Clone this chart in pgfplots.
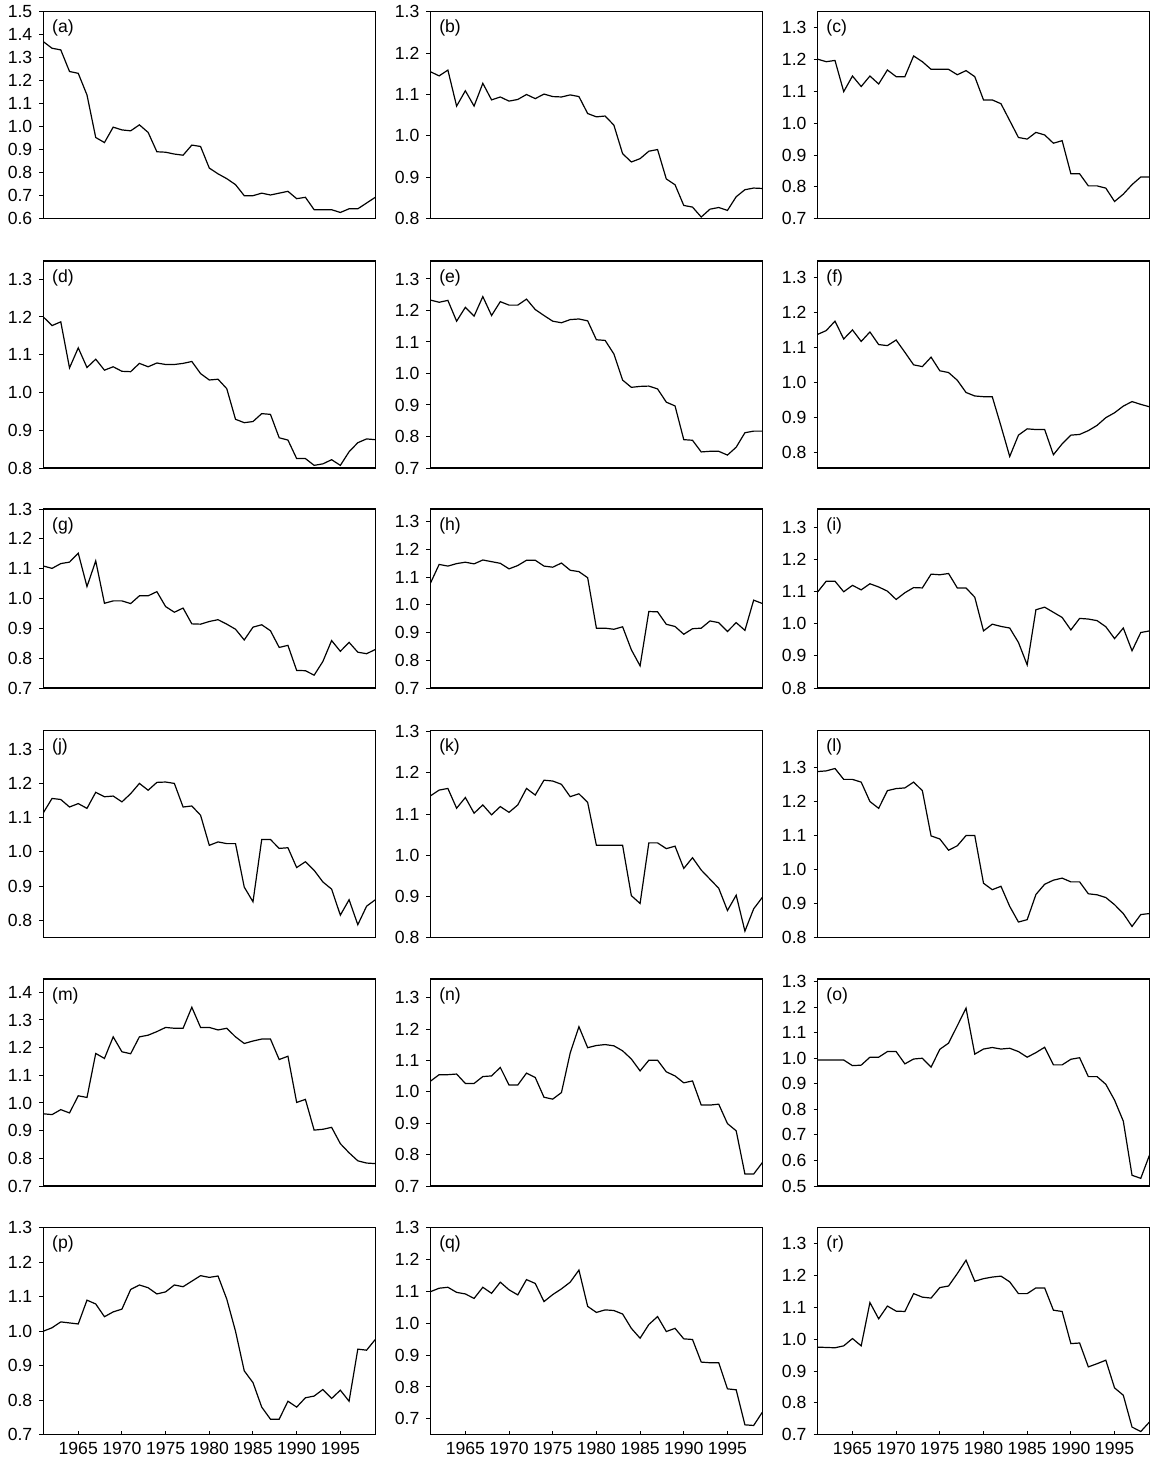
\documentclass[border=0pt]{standalone}
\usepackage{fontspec}
\setmainfont{Liberation Sans}
\usepackage{pgfplots}
\usepackage{pgfplotstable}
\pgfplotsset{compat=1.18}

\pgfplotstableread{
year a b c d e f g h i j k l m n o p q r
1961 1.370 1.155 1.201 1.200 1.233 1.137 1.109 1.078 1.099 1.114 1.144 1.288 0.961 1.034 0.993 1.000 1.099 0.975
1962 1.341 1.145 1.193 1.177 1.226 1.148 1.101 1.146 1.133 1.156 1.158 1.290 0.958 1.055 0.993 1.010 1.110 0.974
1963 1.334 1.159 1.197 1.187 1.232 1.175 1.117 1.140 1.133 1.153 1.162 1.297 0.976 1.055 0.993 1.027 1.113 0.973
1964 1.240 1.072 1.099 1.065 1.166 1.124 1.122 1.149 1.100 1.131 1.114 1.265 0.964 1.057 0.993 1.024 1.097 0.979
1965 1.232 1.109 1.148 1.118 1.210 1.150 1.152 1.154 1.120 1.141 1.140 1.265 1.026 1.027 0.971 1.021 1.092 1.002
1966 1.138 1.072 1.115 1.066 1.182 1.117 1.040 1.148 1.106 1.127 1.102 1.257 1.020 1.027 0.973 1.090 1.078 0.979
1967 0.953 1.127 1.148 1.088 1.244 1.144 1.126 1.162 1.125 1.174 1.122 1.200 1.179 1.049 1.004 1.079 1.113 1.115
1968 0.931 1.087 1.123 1.059 1.184 1.108 0.984 1.156 1.115 1.161 1.098 1.180 1.161 1.051 1.004 1.042 1.094 1.064
1969 0.998 1.094 1.167 1.068 1.228 1.105 0.992 1.150 1.102 1.163 1.118 1.232 1.239 1.078 1.026 1.056 1.129 1.104
1970 0.986 1.084 1.146 1.056 1.217 1.121 0.992 1.130 1.076 1.146 1.104 1.238 1.185 1.022 1.026 1.064 1.105 1.088
1971 0.982 1.088 1.146 1.055 1.217 1.086 0.983 1.142 1.097 1.170 1.122 1.240 1.178 1.022 0.978 1.121 1.089 1.087
1972 1.008 1.100 1.211 1.077 1.236 1.050 1.009 1.161 1.113 1.200 1.162 1.257 1.239 1.060 0.997 1.134 1.137 1.143
1973 0.975 1.090 1.193 1.068 1.203 1.045 1.009 1.161 1.112 1.180 1.146 1.232 1.245 1.046 1.000 1.126 1.125 1.132
1974 0.891 1.101 1.169 1.078 1.184 1.072 1.023 1.140 1.155 1.203 1.182 1.099 1.258 0.983 0.965 1.108 1.068 1.129
1975 0.889 1.095 1.169 1.074 1.166 1.033 0.973 1.136 1.153 1.204 1.180 1.090 1.273 0.977 1.035 1.114 1.090 1.162
1976 0.881 1.094 1.169 1.074 1.161 1.028 0.954 1.151 1.157 1.200 1.172 1.057 1.270 0.998 1.059 1.134 1.108 1.167
1977 0.876 1.099 1.152 1.077 1.171 1.006 0.968 1.125 1.112 1.131 1.142 1.070 1.270 1.124 1.127 1.129 1.129 1.206
1978 0.920 1.095 1.165 1.082 1.173 0.971 0.915 1.120 1.112 1.134 1.149 1.100 1.346 1.208 1.196 1.145 1.167 1.248
1979 0.914 1.054 1.146 1.050 1.167 0.961 0.914 1.098 1.083 1.107 1.128 1.100 1.273 1.141 1.016 1.161 1.053 1.182
1980 0.820 1.046 1.073 1.033 1.107 0.959 0.923 0.916 0.978 1.019 1.024 0.960 1.273 1.148 1.036 1.156 1.034 1.190
1981 0.795 1.048 1.073 1.035 1.105 0.959 0.929 0.916 0.999 1.029 1.024 0.941 1.264 1.151 1.042 1.160 1.042 1.195
1982 0.774 1.026 1.061 1.010 1.062 0.875 0.914 0.912 0.992 1.024 1.024 0.951 1.270 1.147 1.036 1.093 1.040 1.198
1983 0.748 0.957 1.008 0.929 0.979 0.788 0.897 0.921 0.987 1.024 1.024 0.892 1.239 1.131 1.039 1.000 1.029 1.180
1984 0.700 0.937 0.955 0.920 0.956 0.849 0.861 0.838 0.942 0.897 0.902 0.846 1.215 1.105 1.026 0.885 0.984 1.143
1985 0.700 0.945 0.950 0.923 0.959 0.867 0.904 0.780 0.872 0.854 0.883 0.853 1.224 1.067 1.004 0.851 0.953 1.143
1986 0.711 0.963 0.971 0.944 0.960 0.865 0.912 0.976 1.044 1.036 1.030 0.927 1.231 1.101 1.022 0.780 0.996 1.161
1987 0.703 0.967 0.963 0.942 0.951 0.865 0.892 0.975 1.052 1.036 1.030 0.957 1.231 1.101 1.043 0.745 1.021 1.161
1988 0.711 0.896 0.937 0.880 0.909 0.793 0.836 0.930 1.036 1.010 1.016 0.969 1.157 1.064 0.974 0.745 0.974 1.091
1989 0.719 0.882 0.945 0.874 0.897 0.824 0.843 0.922 1.020 1.012 1.022 0.975 1.169 1.051 0.974 0.797 0.984 1.087
1990 0.687 0.832 0.841 0.825 0.790 0.849 0.759 0.894 0.981 0.954 0.968 0.964 1.002 1.029 0.996 0.780 0.951 0.986
1991 0.693 0.828 0.841 0.825 0.788 0.851 0.758 0.914 1.017 0.971 0.994 0.964 1.013 1.035 1.002 0.807 0.949 0.988
1992 0.639 0.804 0.803 0.807 0.751 0.862 0.743 0.916 1.015 0.946 0.964 0.929 0.902 0.958 0.928 0.812 0.878 0.913
1993 0.639 0.823 0.803 0.811 0.753 0.877 0.789 0.942 1.010 0.912 0.942 0.926 0.905 0.958 0.928 0.831 0.876 0.923
1994 0.639 0.827 0.796 0.822 0.753 0.899 0.859 0.936 0.991 0.891 0.920 0.918 0.912 0.961 0.898 0.805 0.876 0.934
1995 0.627 0.820 0.754 0.807 0.741 0.913 0.823 0.904 0.954 0.815 0.866 0.897 0.853 0.899 0.836 0.829 0.794 0.847
1996 0.643 0.853 0.777 0.843 0.766 0.932 0.853 0.936 0.987 0.860 0.903 0.871 0.820 0.876 0.754 0.797 0.791 0.824
1997 0.643 0.870 0.807 0.867 0.812 0.945 0.820 0.908 0.916 0.787 0.816 0.833 0.791 0.738 0.542 0.948 0.681 0.724
1998 0.668 0.874 0.831 0.877 0.817 0.937 0.815 1.017 0.973 0.841 0.870 0.868 0.783 0.738 0.530 0.945 0.679 0.710
1999 0.693 0.873 0.831 0.875 0.817 0.930 0.829 1.005 0.978 0.860 0.898 0.871 0.781 0.775 0.621 0.976 0.721 0.740
}\data

\pgfplotsset{
  panel/.style={
    scale only axis, width=166pt, height=103.5pt,
    anchor=north west,
    xmin=1961, xmax=1999, xtick=\empty,
    ytick align=outside, xtick align=inside,
    ytick pos=left, xtick pos=bottom,
    major tick length=2pt,
    axis line style={line width=0.6pt},
    every tick/.style={black, line width=0.5pt},
    tick label style={font=\fontsize{8.8}{10}\selectfont},
    /pgf/number format/assume math mode=true,
    yticklabel style={/pgf/number format/.cd, fixed, fixed zerofill, precision=1},
    xticklabel style={/pgf/number format/1000 sep={}},
  },
  bottomrow/.style={xtick={1965,1970,1975,1980,1985,1990,1995}},
  row3/.style={height=89.5pt},
}
\newcommand{\series}[1]{\addplot[black, line width=0.6pt, no marks] table[x=year, y=#1] {\data};}
\newcommand{\plabel}[1]{\node[anchor=north west, inner sep=0pt, font=\fontsize{8.8}{10}\selectfont, xshift=4.25pt, yshift=-4pt] at (rel axis cs:0,1) {(#1)};}

\begin{document}
\begin{tikzpicture}
% Row 1
\begin{axis}[panel, at={(21.65pt,-5.85pt)}, ymin=0.6, ymax=1.5, ytick={0.6,0.7,0.8,0.9,1.0,1.1,1.2,1.3,1.4,1.5}]
\series{a}\plabel{a}
\end{axis}
\begin{axis}[panel, at={(215.2pt,-5.85pt)}, ymin=0.8, ymax=1.3, ytick={0.8,0.9,1.0,1.1,1.2,1.3}]
\series{b}\plabel{b}
\end{axis}
\begin{axis}[panel, at={(408.75pt,-5.85pt)}, ymin=0.7, ymax=1.35, ytick={0.7,0.8,0.9,1.0,1.1,1.2,1.3}]
\series{c}\plabel{c}
\end{axis}
% Row 2
\begin{axis}[panel, at={(21.65pt,-130.5pt)}, ymin=0.8, ymax=1.348, ytick={0.8,0.9,1.0,1.1,1.2,1.3}]
\series{d}\plabel{d}
\end{axis}
\begin{axis}[panel, at={(215.2pt,-130.5pt)}, ymin=0.7, ymax=1.357, ytick={0.7,0.8,0.9,1.0,1.1,1.2,1.3}]
\series{e}\plabel{e}
\end{axis}
\begin{axis}[panel, at={(408.75pt,-130.5pt)}, ymin=0.755, ymax=1.347, ytick={0.8,0.9,1.0,1.1,1.2,1.3}]
\series{f}\plabel{f}
\end{axis}
% Row 3
\begin{axis}[panel, row3, at={(21.65pt,-254.5pt)}, ymin=0.7, ymax=1.3, ytick={0.7,0.8,0.9,1.0,1.1,1.2,1.3}]
\series{g}\plabel{g}
\end{axis}
\begin{axis}[panel, row3, at={(215.2pt,-254.5pt)}, ymin=0.7, ymax=1.346, ytick={0.7,0.8,0.9,1.0,1.1,1.2,1.3}]
\series{h}\plabel{h}
\end{axis}
\begin{axis}[panel, row3, at={(408.75pt,-254.5pt)}, ymin=0.8, ymax=1.358, ytick={0.8,0.9,1.0,1.1,1.2,1.3}]
\series{i}\plabel{i}
\end{axis}
% Row 4
\begin{axis}[panel, at={(21.65pt,-365.35pt)}, ymin=0.749, ymax=1.354, ytick={0.8,0.9,1.0,1.1,1.2,1.3}]
\series{j}\plabel{j}
\end{axis}
\begin{axis}[panel, at={(215.2pt,-365.35pt)}, ymin=0.8, ymax=1.302, ytick={0.8,0.9,1.0,1.1,1.2,1.3}]
\series{k}\plabel{k}
\end{axis}
\begin{axis}[panel, at={(408.75pt,-365.35pt)}, ymin=0.8, ymax=1.408, ytick={0.8,0.9,1.0,1.1,1.2,1.3}]
\series{l}\plabel{l}
\end{axis}
% Row 5
\begin{axis}[panel, at={(21.65pt,-489.5pt)}, ymin=0.7, ymax=1.448, ytick={0.7,0.8,0.9,1.0,1.1,1.2,1.3,1.4}]
\series{m}\plabel{m}
\end{axis}
\begin{axis}[panel, at={(215.2pt,-489.5pt)}, ymin=0.7, ymax=1.36, ytick={0.7,0.8,0.9,1.0,1.1,1.2,1.3}]
\series{n}\plabel{n}
\end{axis}
\begin{axis}[panel, at={(408.75pt,-489.5pt)}, ymin=0.5, ymax=1.31, ytick={0.5,0.6,0.7,0.8,0.9,1.0,1.1,1.2,1.3}]
\series{o}\plabel{o}
\end{axis}
% Row 6
\begin{axis}[panel, bottomrow, at={(21.65pt,-613.85pt)}, ymin=0.7, ymax=1.3, ytick={0.7,0.8,0.9,1.0,1.1,1.2,1.3}]
\series{p}\plabel{p}
\end{axis}
\begin{axis}[panel, bottomrow, at={(215.2pt,-613.85pt)}, ymin=0.65, ymax=1.3, ytick={0.7,0.8,0.9,1.0,1.1,1.2,1.3}]
\series{q}\plabel{q}
\end{axis}
\begin{axis}[panel, bottomrow, at={(408.75pt,-613.85pt)}, ymin=0.7, ymax=1.35, ytick={0.7,0.8,0.9,1.0,1.1,1.2,1.3}]
\series{r}\plabel{r}
\end{axis}
\pgfresetboundingbox
\path[use as bounding box] (0pt,0pt) rectangle (575.5pt,-730.5pt);
\end{tikzpicture}
\end{document}
